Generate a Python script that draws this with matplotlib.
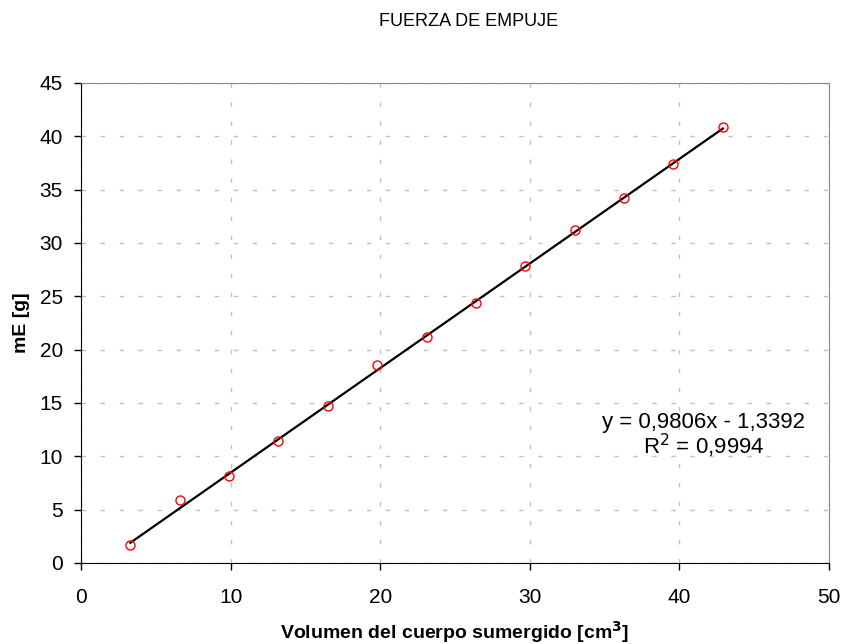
import numpy as np
import matplotlib
matplotlib.use("Agg")
import matplotlib.pyplot as plt

plt.rcParams['font.family'] = ['Liberation Sans', 'DejaVu Sans']

# volumen sumergido [cm3] y masa de empuje [g]
vol = [3.3, 6.6, 9.9, 13.2, 16.5, 19.8, 23.1, 26.4, 29.7, 33.0, 36.3, 39.6, 42.9]
mE = [1.7, 5.95, 8.15, 11.4, 14.75, 18.6, 21.15, 24.4, 27.8, 31.25, 34.2, 37.45, 40.85]

slope, icpt = 0.9806, -1.3392

W, H = 844, 644
fig = plt.figure(figsize=(W/100, H/100), dpi=100)
ax = fig.add_axes([81/W, 1-563/H, (829-81)/W, (563-83)/H])

xs = np.array([vol[0], vol[-1]])
ax.plot(xs, slope*xs + icpt, color='black', lw=1.6, zorder=2)
ax.plot(vol, mE, 'o', mfc='none', mec='red', ms=6.5, mew=1.0, zorder=3)

ax.set_xlim(0, 50)
ax.set_ylim(0, 45)
ax.set_xticks(range(0, 51, 10))
ax.set_yticks(range(0, 46, 5))
ax.tick_params(labelsize=15, direction='out', length=5, width=1, colors='black')
ax.tick_params(axis='x', pad=13)
ax.tick_params(axis='y', pad=8)
ax.grid(True, color='#c0c0c0', linestyle=(0, (3.2, 10.5)), lw=1.0)
ax.set_axisbelow(True)
for s in ['top', 'right']:
    ax.spines[s].set_color('#888888')
for s in ['left', 'bottom']:
    ax.spines[s].set_color('black')

fig.text(469/W, 1-21/H, "FUERZA DE EMPUJE", ha='center', va='center', fontsize=13)
fig.text(455/W, 1-632/H, "Volumen del cuerpo sumergido [cm$^\\mathbf{3}$]",
         ha='center', va='center', fontsize=14, fontweight='bold')
fig.text(22/W, 1-323/H, "mE [g]", ha='center', va='center', rotation=90,
         fontsize=14, fontweight='bold')

ax.text(41.6, 12.65, "y = 0,9806x - 1,3392", ha='center', va='baseline', fontsize=16)
ax.text(41.6, 10.2, "R$^2$ = 0,9994", ha='center', va='baseline', fontsize=16)

fig.savefig("out.png", dpi=100)
